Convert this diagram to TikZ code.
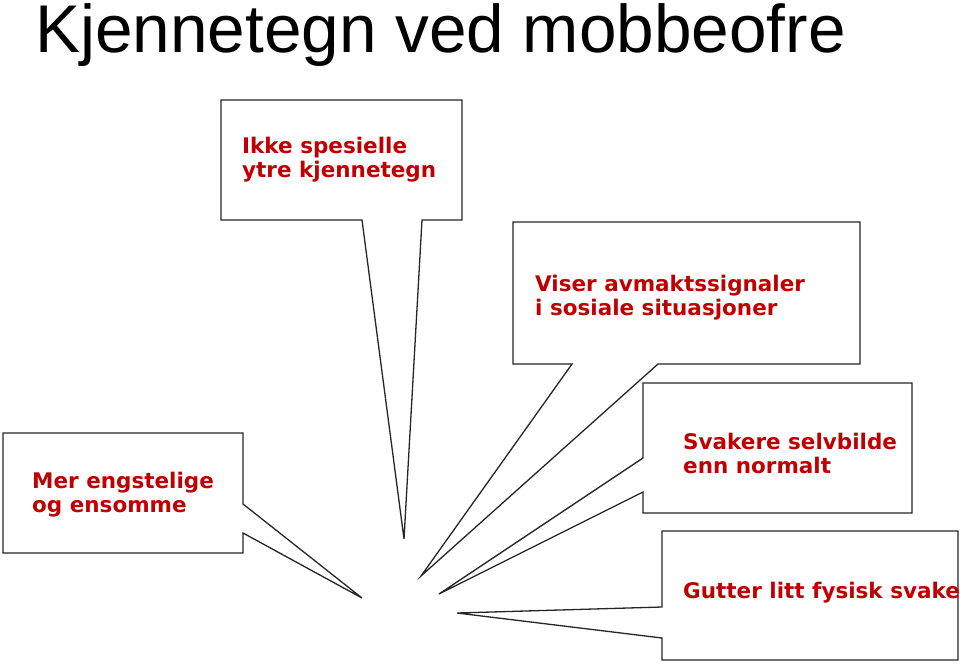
\documentclass[tikz,border=0pt]{standalone}
\usepackage{fontspec}
\setmainfont{Liberation Sans}
\newfontfamily\calloutfont{DejaVu Sans}
\definecolor{textred}{RGB}{192,0,0}
\tikzset{
    callout/.style={draw=black!85, fill=white, line width=1.3pt, line join=miter},
    calltext/.style={anchor=base west, inner sep=0, align=left, text=textred,
        font=\calloutfont\bfseries\fontsize{21.5}{23.5}\selectfont},
}

\begin{document}
\begin{tikzpicture}[x=1pt, y=-1pt]
    \useasboundingbox (0,0) rectangle (960,664);
    \node[anchor=base west, inner sep=0, font=\fontsize{67.5}{70}\selectfont] (title) at (35,52) {Kjennetegn ved mobbeofre};
    \coordinate (tip1) at (404,539);
    \coordinate (tip2) at (421,576);
    \coordinate (tip3) at (439,594);
    \coordinate (tip4) at (457,613);
    \coordinate (tip5) at (362,598);
    \draw[callout] (221,100) -- (462,100) -- (462,220) -- (422,220) -- (tip1) -- (362,220) -- (221,220) -- cycle;
    \draw[callout] (513,222) -- (860,222) -- (860,364) -- (658,364) -- (tip2) -- (572,364) -- (513,364) -- cycle;
    \draw[callout] (643,383) -- (912,383) -- (912,513) -- (643,513) -- (643,492) -- (tip3) -- (643,458) -- cycle;
    \draw[callout] (662,531) -- (958,531) -- (958,660) -- (662,660) -- (662,638) -- (tip4) -- (662,607) -- cycle;
    \draw[callout] (3,433) -- (243,433) -- (243,504) -- (tip5) -- (243,533) -- (243,553) -- (3,553) -- cycle;
    \node[calltext] (ytre) at (242,177) {Ikke spesielle\\ytre kjennetegn};
    \node[calltext] (avmakt) at (535,315) {Viser avmaktssignaler\\i sosiale situasjoner};
    \node[calltext] (selvbilde) at (683,473) {Svakere selvbilde\\enn normalt};
    \node[calltext] (fysisk) at (683,598) {Gutter litt fysisk svake};
    \node[calltext] (engstelig) at (32,512) {Mer engstelige\\og ensomme};
\end{tikzpicture}
\end{document}
